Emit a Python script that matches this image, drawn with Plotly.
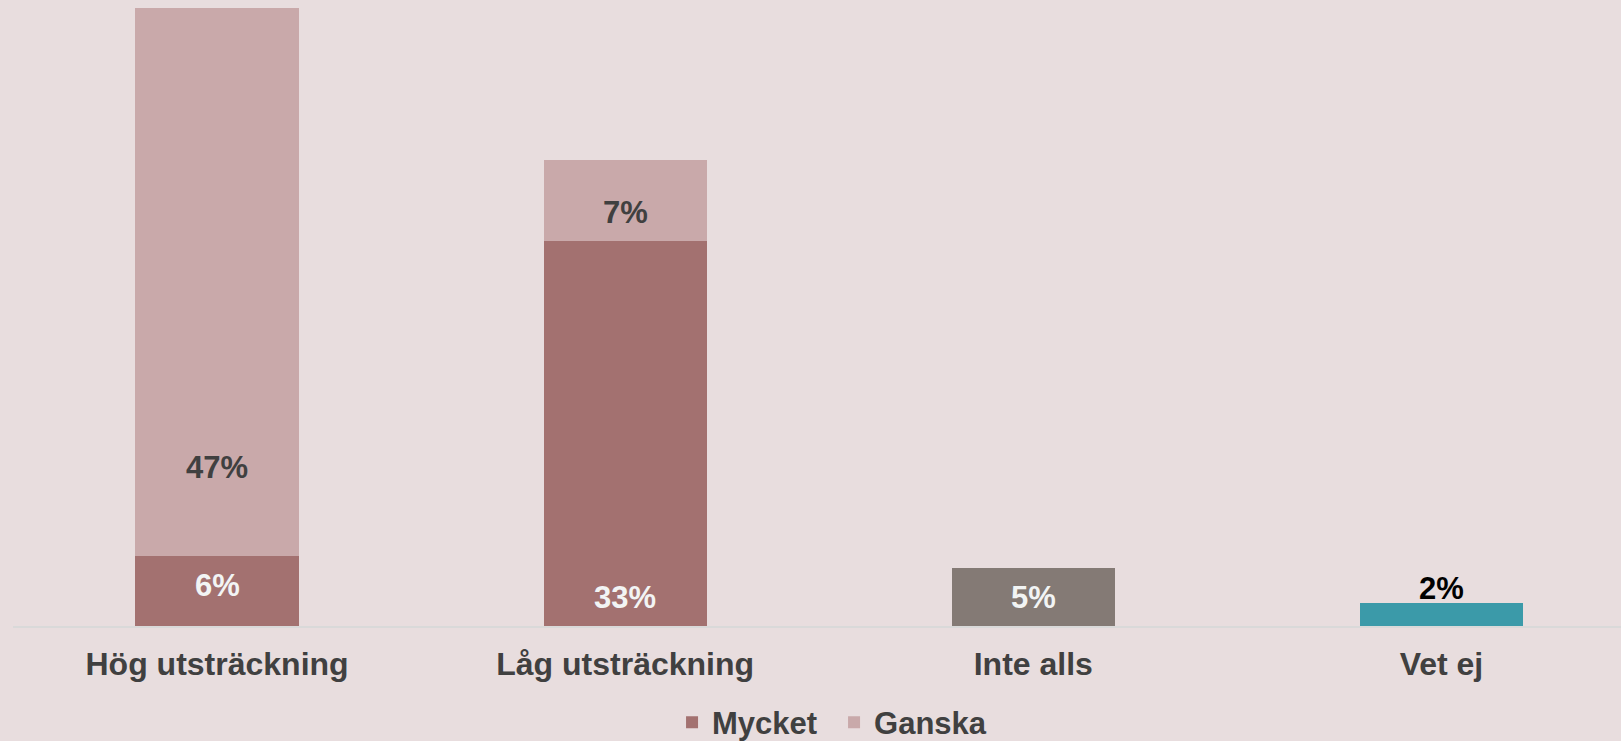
import plotly.graph_objects as go

# data
categories = ['Hög utsträckning', 'Låg utsträckning', 'Inte alls', 'Vet ej']
mycket = [6, 33]
ganska = [47, 7]
inte_alls = [5]
vet_ej = [2]

BG = '#E8DDDE'
TXT = '#404040'
LIGHT = '#F2F4F4'
FONT = 'Liberation Sans'

fig = go.Figure()

fig.add_trace(go.Bar(x=categories[:2], y=mycket, name='Mycket',
                     marker=dict(color='#A37170', line=dict(width=0))))
fig.add_trace(go.Bar(x=categories[:2], y=ganska, name='Ganska',
                     marker=dict(color='#C9A9AA', line=dict(width=0))))
fig.add_trace(go.Bar(x=[categories[2]], y=inte_alls, showlegend=False,
                     marker=dict(color='#847A75', line=dict(width=0))))
fig.add_trace(go.Bar(x=[categories[3]], y=vet_ej, showlegend=False,
                     marker=dict(color='#3B9AA9', line=dict(width=0))))


# value labels, placed like in the original (base of segment + pixel offset)
def label(cat, base, value, shift, color):
    fig.add_annotation(x=cat, y=base, yshift=shift, text=f'{value}%',
                       showarrow=False, yanchor='middle',
                       font=dict(family=FONT, size=31, color=color, weight='bold'))


label(categories[0], 0, mycket[0], 41, LIGHT)
label(categories[1], 0, mycket[1], 29, LIGHT)
label(categories[0], mycket[0], ganska[0], 89, TXT)
label(categories[1], mycket[1], ganska[1], 29, TXT)
label(categories[2], 0, inte_alls[0], 29, LIGHT)
label(categories[3], 0, vet_ej[0], 38, '#000000')

fig.update_layout(
    width=1621, height=741,
    barmode='stack', bargap=0.6,
    paper_bgcolor=BG, plot_bgcolor=BG,
    margin=dict(l=13, r=0, t=0, b=115, autoexpand=False),
    font=dict(family=FONT, color=TXT),
    legend=dict(orientation='h', x=0.5106, xanchor='center',
                yref='container', y=0.025, yanchor='middle',
                traceorder='normal', entrywidth=117,
                font=dict(family=FONT, size=31, color=TXT, weight='bold'),
                itemwidth=30, bgcolor='rgba(0,0,0,0)'),
)
fig.update_xaxes(range=[-0.5, 3.44], showline=True, linecolor='#D9D9D9', linewidth=2,
                 ticks='outside', ticklen=9, tickcolor='rgba(0,0,0,0)',
                 tickfont=dict(family=FONT, size=32, color=TXT, weight='bold'))
fig.update_yaxes(range=[0, 53.69], visible=False, showgrid=False)

# drop the default page margin so the figure fills the window
fig.write_html('out.html', config={'displayModeBar': False},
               post_script="document.body.style.margin='0';"
                           "document.body.style.background='#E8DDDE';")
